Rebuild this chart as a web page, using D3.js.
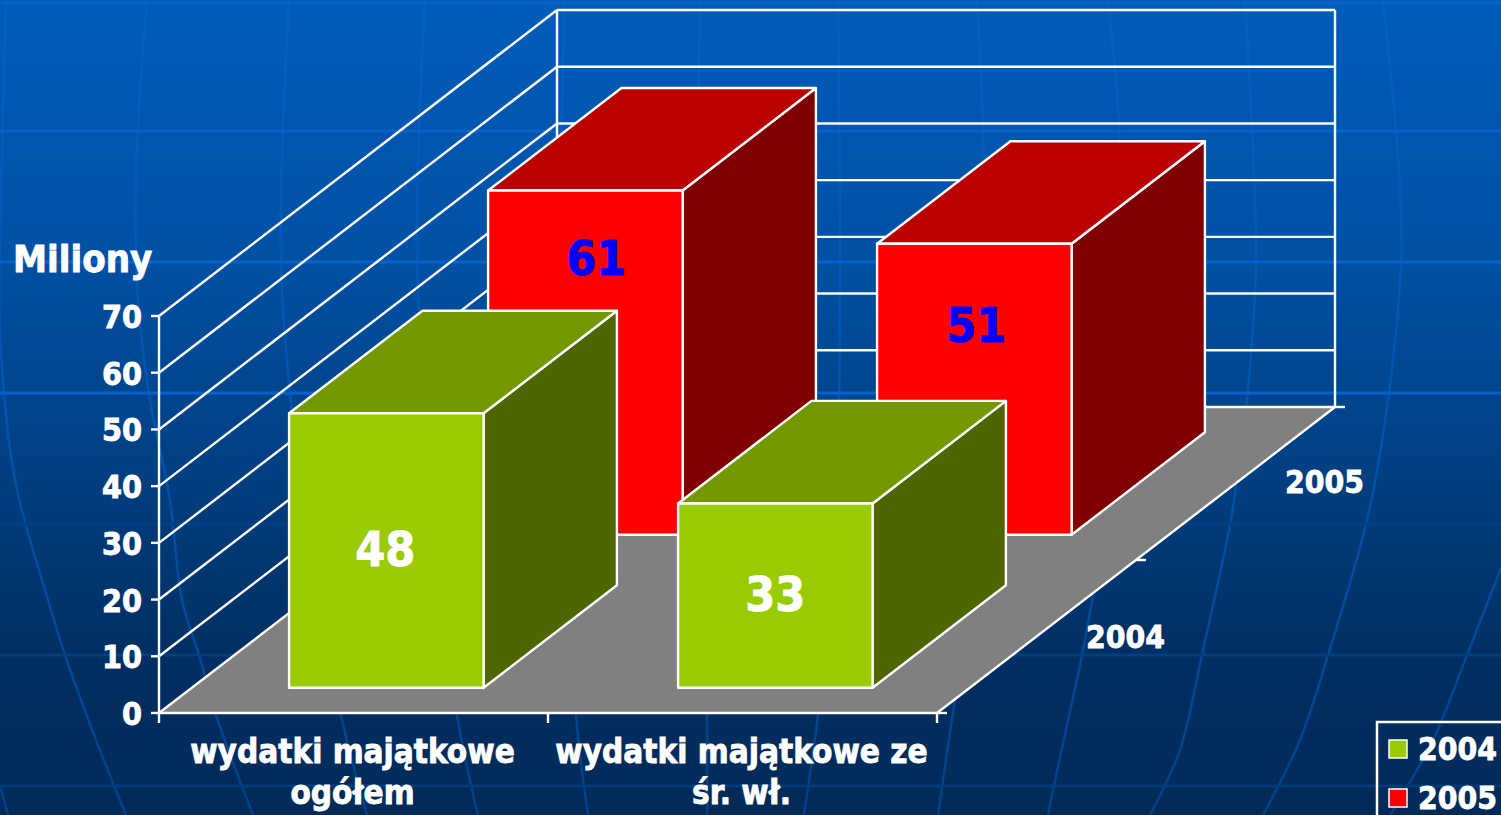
<!DOCTYPE html>
<html><head><meta charset="utf-8">
<script src="https://cdn.jsdelivr.net/npm/d3@7"></script>
<style>html,body{margin:0;padding:0;overflow:hidden;background:#012a5a}svg{display:block}
text{font-family:"DejaVu Sans Condensed","DejaVu Sans",sans-serif;font-weight:700;stroke:currentColor;stroke-width:0.8px;paint-order:stroke}</style>
</head><body><svg id="c" width="1501" height="815"></svg>
<script>
const categories = [["wydatki majątkowe","ogółem"],["wydatki majątkowe ze","śr. wł."]];
const categoryKeys = ["ogolem","srwl"];
const seriesNames = ["2004","2005"];
const values2004 = [48.4, 32.5];
const values2005 = [60.7, 51.3];
const yTicks = [0,10,20,30,40,50,60,70];
const yTitle = "Miliony";
const seriesFill = {"2004":{front:"#99cc00",top:"#739900",side:"#4d6600",label:"#ffffff"},
                    "2005":{front:"#ff0000",top:"#bb0000",side:"#800000",label:"#0000ff"}};
// data label placement relative to each bar's front-face centre
const labelShift2004 = [[-1,15],[0,15]];
const labelShift2005 = [[11,-88],[2,-47]];
// backdrop globe lines
const parallels = [[3,"#0562c8"],[131,"#0562c8"],[262,"#0562cc"],[393,"#0562cc"],[524,"#003f80"],[655,"#013f7e"],[786,"#013c78"]];
const meridians = [
 [[6,0],[1,200],[0,330],[15,480],[48,600],[65,655],[96,740],[126,815]],
 [[147,0],[136,170],[138,300],[150,400],[170,500],[182,600],[199,655],[216,715],[253,815]],
 [[289,0],[281,262],[300,480],[341,715],[367,815]],
 [[425,0],[417,262],[435,500],[457,715],[478,815]],
 [[565,0],[560,262],[568,500],[576,715],[588,815]],
 [[700,0],[698,262],[703,500],[707,715],[707,815]],
 [[838,0],[839,400],[830,600],[818,715],[804,815]],
 [[977,0],[983,130],[985,392],[972,600],[955,700],[938,815]],
 [[1108,0],[1120,140],[1122,400],[1093,595],[1082,655],[1053,790],[1048,815]],
 [[1245,0],[1256,260],[1247,400],[1237,480],[1230,525],[1203,650],[1180,750],[1150,815]],
 [[1383,0],[1399,170],[1401,262],[1388,400],[1367,520],[1328,655],[1300,740],[1263,815]],
 [[1501,568],[1467,655],[1433,740],[1390,815]],
 [[0,785],[8,815]]
];

const svg = d3.select("#c");
const defs = svg.append("defs");
const bg = defs.append("linearGradient").attr("id","bg").attr("x1",0).attr("y1",0).attr("x2",0).attr("y2",1);
[[0,"#005cba"],[0.3,"#0051a6"],[0.55,"#004185"],[0.8,"#012f63"],[1,"#012a58"]].forEach(s=>bg.append("stop").attr("offset",s[0]).attr("stop-color",s[1]));
const mg = defs.append("linearGradient").attr("id","mg").attr("gradientUnits","userSpaceOnUse").attr("x1",0).attr("y1",0).attr("x2",0).attr("y2",815);
[[0,"#0561c2"],[0.5,"#0154ae"],[1,"#014088"]].forEach(s=>mg.append("stop").attr("offset",s[0]).attr("stop-color",s[1]));

svg.append("rect").attr("width",1501).attr("height",815).attr("fill","url(#bg)");
const back = svg.append("g");
back.selectAll("path.m").data(meridians).join("path").attr("class","m")
  .attr("d",d3.line().curve(d3.curveCatmullRom)).attr("fill","none").attr("stroke","url(#mg)").attr("stroke-width",2.5);
back.selectAll("line.p").data(parallels).join("line").attr("class","p")
  .attr("x1",0).attr("x2",1501).attr("y1",d=>d[0]).attr("y2",d=>d[0]).attr("stroke",d=>d[1]).attr("stroke-width",3);

// pseudo-3D scales
const y = d3.scaleLinear().domain([0,70]).range([713,316]);
const x = d3.scaleLinear().domain([0,1]).range([159,937]);
const dx = d3.scaleLinear().domain([0,1]).range([0,398]);
const dy = d3.scaleLinear().domain([0,1]).range([0,306]);
const cat = d3.scaleBand().domain(categoryKeys).range([0,1]).paddingInner(0.5).paddingOuter(0.25);
const depth = d3.scaleBand().domain(seriesNames).range([0,1]).paddingInner(0.33).paddingOuter(0.165);
const P = (c,v,d)=>[x(c)+dx(d), y(v)-dy(d)];
const poly = pts => "M"+pts.map(p=>p.join(",")).join("L")+"Z";
const W = "#ffffff";
const LW = 2.4;
const chart = svg.append("g");

// floor
chart.append("path").attr("d",poly([P(0,0,0),P(1,0,0),P(1,0,1),P(0,0,1)])).attr("fill","#808080");
// walls + gridlines
const seg=(a,b,w=LW)=>chart.append("line").attr("x1",a[0]).attr("y1",a[1]).attr("x2",b[0]).attr("y2",b[1]).attr("stroke",W).attr("stroke-width",w);
yTicks.forEach(t=>{
  seg(P(0,t,0),P(0,t,1)); seg(P(0,t,1),P(1,t,1));
  seg([x(0)-8,y(t)],[x(0),y(t)]);
});
seg(P(0,0,0),P(0,70,0)); seg(P(0,0,1),P(0,70,1)); seg(P(1,0,1),P(1,70,1));
seg(P(0,0,0),P(1,0,0)); seg(P(1,0,0),P(1,0,1));
// axis ticks
[0,0.5,1].forEach(t=>seg([x(t),y(0)],[x(t),y(0)+10]));
[0,0.5,1].forEach(t=>{const p=P(1,0,t);seg(p,[p[0]+10,p[1]]);});

// bars, back row first
const rows = [["2005",values2005,labelShift2005],["2004",values2004,labelShift2004]];
rows.forEach(([s,vals])=>{
  const d0=depth(s), d1=d0+depth.bandwidth(), col=seriesFill[s];
  categoryKeys.forEach((k,i)=>{
    const c0=cat(k), c1=c0+cat.bandwidth(), v=vals[i];
    const g=chart.append("g").attr("stroke",W).attr("stroke-width",LW).attr("stroke-linejoin","round");
    g.append("path").attr("d",poly([P(c1,0,d0),P(c1,0,d1),P(c1,v,d1),P(c1,v,d0)])).attr("fill",col.side);
    g.append("path").attr("d",poly([P(c0,v,d0),P(c1,v,d0),P(c1,v,d1),P(c0,v,d1)])).attr("fill",col.top);
    g.append("path").attr("d",poly([P(c0,0,d0),P(c1,0,d0),P(c1,v,d0),P(c0,v,d0)])).attr("fill",col.front);
  });
});
// data labels
const fmt=d3.format(".0f");
rows.forEach(([s,vals,shift])=>{
  const d0=depth(s), col=seriesFill[s];
  categoryKeys.forEach((k,i)=>{
    const c=cat(k)+cat.bandwidth()/2, v=vals[i], p=P(c,v/2,d0);
    chart.append("text").attr("x",p[0]+shift[i][0]).attr("y",p[1]+shift[i][1])
      .attr("text-anchor","middle").attr("font-size",48).attr("fill",col.label).style("color",col.label).text(fmt(v));
  });
});

// axis text
const T=(t,px,py,fs,a="middle")=>chart.append("text").attr("x",px).attr("y",py).attr("font-size",fs).attr("text-anchor",a).attr("fill",W).style("color",W).text(t);
yTicks.forEach(t=>T(String(t),142,y(t)+12,32,"end"));
T(yTitle,13,272,38,"start");
categoryKeys.forEach((k,i)=>{
  const cx=x(cat(k)+cat.bandwidth()/2);
  categories[i].forEach((l,j)=>T(l,cx-1,763+j*41,33));
});
const depthLabelShift = {"2004":[89,11],"2005":[89,9]};
seriesNames.forEach(s=>{
  const d=depth(s)+depth.bandwidth()/2, p=P(1,0,d);
  T(s,p[0]+depthLabelShift[s][0],p[1]+depthLabelShift[s][1],31.5);
});

// legend
const lg=svg.append("g");
lg.append("rect").attr("x",1377).attr("y",722).attr("width",140).attr("height",110).attr("fill","none").attr("stroke",W).attr("stroke-width",2.5);
seriesNames.forEach((s,i)=>{
  lg.append("rect").attr("x",1389).attr("y",740+i*49).attr("width",18).attr("height",18).attr("fill",seriesFill[s].front).attr("stroke",W).attr("stroke-width",1.5);
  lg.append("text").attr("x",1418).attr("y",760+i*49).attr("font-size",31.5).attr("fill",W).style("color",W).text(s);
});
</script></body></html>
